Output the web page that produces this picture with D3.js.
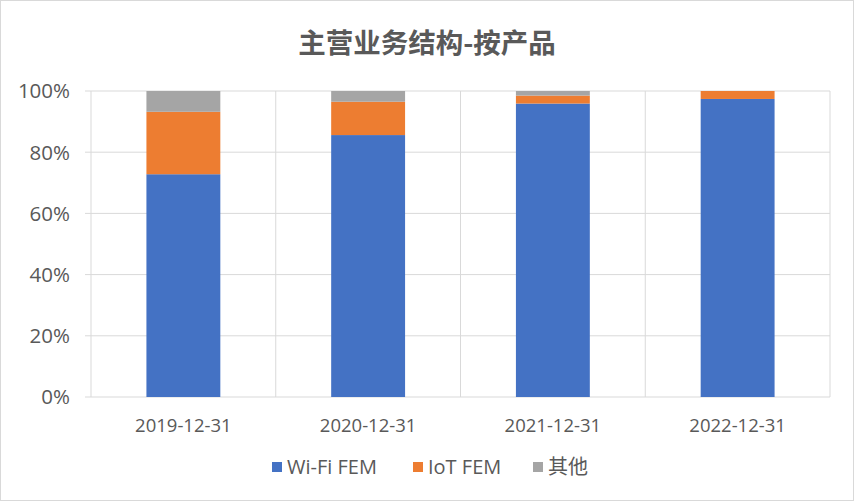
<!DOCTYPE html>
<html><head><meta charset="utf-8">
<script src="https://cdn.jsdelivr.net/npm/d3@7"></script>
<style>body{margin:0;background:#fff;}svg{display:block;}text{font-family:"Open Sans","Noto Sans CJK SC",sans-serif;}</style>
</head><body><svg id="c" width="854" height="501"></svg>
<script>
const categories = ["2019-12-31","2020-12-31","2021-12-31","2022-12-31"];
const seriesNames = ["Wi-Fi FEM","IoT FEM","其他"];
const wifi = [72.8, 85.6, 95.9, 97.4];
const iot = [20.4, 10.9, 2.6, 2.6];
const other = [6.8, 3.5, 1.5, 0.0];
const yTicks = [0,20,40,60,80,100];
const colors = ["#4472C4","#ED7D31","#A5A5A5"];

const svg = d3.select("#c");
svg.append("rect").attr("x",0.5).attr("y",0.5).attr("width",853).attr("height",500)
  .attr("fill","#fff").attr("stroke","#d9d9d9");

const x0=91, x1=830, yTop=91, yBot=397;
const x = d3.scaleBand().domain(categories).range([x0,x1]).paddingInner(0.6).paddingOuter(0.3);
const y = d3.scaleLinear().domain([0,100]).range([yBot,yTop]);

// grid
svg.append("g").selectAll("line").data(yTicks).join("line")
  .attr("x1",x0-6).attr("x2",x1).attr("y1",d=>y(d)).attr("y2",d=>y(d))
  .attr("stroke","#d9d9d9").attr("stroke-width",1);
const bandEdges = categories.map((c,i)=>x0 + (i+1)*(x1-x0)/categories.length);
svg.append("g").selectAll("line").data([x0].concat(bandEdges)).join("line")
  .attr("x1",d=>d).attr("x2",d=>d).attr("y1",yTop).attr("y2",yBot)
  .attr("stroke","#d9d9d9").attr("stroke-width",1);

const data = categories.map((c,i)=>({cat:c, "Wi-Fi FEM":wifi[i], "IoT FEM":iot[i], "其他":other[i]}));
const stack = d3.stack().keys(seriesNames)(data);
svg.append("g").selectAll("g").data(stack).join("g").attr("fill",(d,i)=>colors[i])
  .selectAll("rect").data(d=>d).join("rect")
  .attr("x",d=>x(d.data.cat)).attr("width",x.bandwidth())
  .attr("y",d=>y(d[1])).attr("height",d=>Math.max(0,y(d[0])-y(d[1])));

// y labels
svg.append("g").selectAll("text").data(yTicks).join("text")
  .attr("x",70).attr("y",d=>y(d)).attr("dy","0.36em").attr("text-anchor","end")
  .attr("font-size",20.5).attr("fill","#595959").text(d=>d+"%");
// x labels
svg.append("g").selectAll("text").data(categories).join("text")
  .attr("x",d=>x(d)+x.bandwidth()/2).attr("y",425).attr("dy","0.36em").attr("text-anchor","middle")
  .attr("font-size",18.5).attr("fill","#595959").text(d=>d);
// title
svg.append("text").attr("x",427).attr("y",43).attr("dy","0.36em").attr("text-anchor","middle")
  .style("font-family","'Noto Sans CJK SC',sans-serif")
  .attr("font-size",27.5).attr("font-weight","bold").attr("fill","#595959").text("主营业务结构-按产品");
// legend
const legX=[272,413,533];
const lg = svg.append("g").selectAll("g").data(seriesNames).join("g")
  .attr("transform",(d,i)=>`translate(${legX[i]},467)`);
lg.append("rect").attr("x",0).attr("y",-5).attr("width",10).attr("height",10).attr("fill",(d,i)=>colors[i]);
lg.append("text").attr("x",15).attr("y",0).attr("dy","0.36em").attr("font-size",20).attr("fill","#595959").text(d=>d);
</script></body></html>
